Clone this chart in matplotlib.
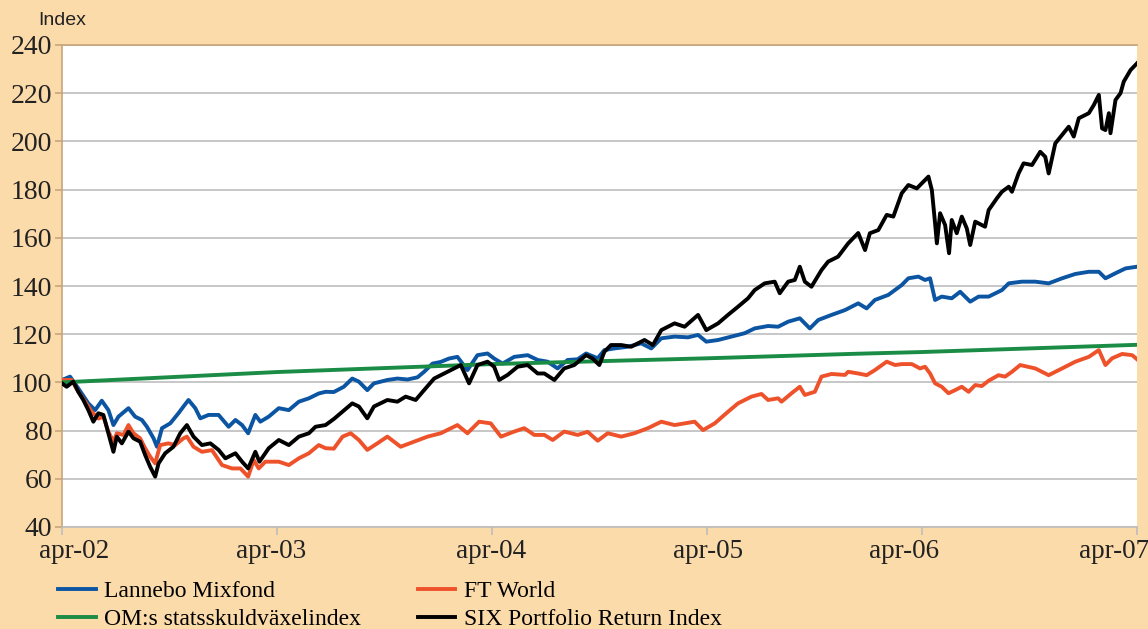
import matplotlib
matplotlib.use("Agg")
import matplotlib.pyplot as plt
from matplotlib.transforms import ScaledTranslation

BG = "#FCDBAA"
TAN = "#C8A47A"
GRID = "#BDBDBD"

# months since April 2002
lannebo_m = [0, 0.45, 0.91, 1.47, 1.85, 2.22, 2.59, 2.87, 3.15, 3.71, 4.08, 4.46, 4.74,
             5.11, 5.30, 5.58, 6.04, 6.50, 6.78, 7.06, 7.44, 7.72, 8.18, 8.74, 9.30,
             9.68, 10.05, 10.39, 10.79, 11.07, 11.54, 12.10, 12.66, 13.22, 13.78,
             14.33, 14.71, 15.17, 15.73, 16.20, 16.57, 17.04, 17.41, 18.16, 18.72,
             19.28, 19.84, 20.21, 20.68, 21.14, 21.60, 22.07, 22.63, 23.19, 23.75,
             24.12, 24.59, 25.24, 25.99, 26.55, 27.10, 27.66, 28.22, 28.78, 29.25,
             29.90, 30.27, 30.83, 31.58, 32.33, 32.89, 33.45, 34.19, 34.94, 35.50,
             35.96, 36.62, 37.36, 38.10, 38.66, 39.41, 39.97, 40.53, 41.18, 41.74,
             42.21, 42.95, 43.70, 44.44, 44.91, 45.37, 46.12, 46.87, 47.24, 47.80,
             48.17, 48.45, 48.73, 49.10, 49.66, 50.13, 50.69, 51.16, 51.72, 52.46,
             52.84, 53.58, 54.32, 55.07, 55.82, 56.56, 57.31, 57.87, 58.24, 58.80,
             59.36, 60]
lannebo = [101, 102.4, 97.5, 91.3, 88.5, 92.4, 88.5, 82.3, 85.8, 89.3, 85.8, 84.4, 81.6,
           76.8, 73.3, 81, 83, 87.2, 90, 92.7, 89.3, 85.1, 86.5, 86.5, 81.6,
           84.4, 82.3, 78.9, 86.5, 83.7, 85.8, 89.3, 88.5, 92, 93.4,
           95.4, 96.1, 96, 98.2, 101.6, 100.3, 96.8, 99.6, 101, 101.6,
           101.2, 102.1, 104.4, 107.8, 108.5, 109.9, 110.6, 105.1, 111.3, 112,
           109.9, 107.8, 110.6, 111.3, 109.3, 108.6, 105.8, 109.3, 109.6, 112,
           110, 113.4, 114.1, 114.8, 116.2, 114.1, 118.3, 119, 118.7, 119.7,
           116.9, 117.6, 119, 120.4, 122.4, 123.4, 123.1, 125.2, 126.6, 122.4,
           125.9, 128, 130, 132.8, 130.7, 134.2, 136.3, 140.4, 143.2, 143.9,
           142.5, 143.2, 134.2, 135.6, 134.9, 137.6, 133.5, 135.6, 135.6, 138.3,
           141.1, 141.8, 141.8, 141.1, 143.2, 145, 145.9, 145.9, 143.2, 145.3,
           147.3, 148]

ftworld_m = [0, 0.54, 0.91, 1.29, 1.66, 2.03, 2.31, 2.59, 2.87, 3.06, 3.43, 3.71, 3.99,
             4.36, 4.64, 4.92, 5.20, 5.48, 5.94, 6.32, 6.78, 6.97, 7.34, 7.81, 8.37,
             8.93, 9.49, 9.96, 10.39, 10.70, 10.98, 11.35, 12.10, 12.66, 13.22, 13.78,
             14.33, 14.71, 15.17, 15.66, 16.11, 16.57, 17.04, 17.60, 18.16, 18.90,
             19.65, 20.40, 21.14, 22.07, 22.63, 23.28, 23.93, 24.50, 25.24, 25.80,
             26.36, 26.92, 27.39, 28.03, 28.78, 29.34, 29.90, 30.46, 31.21, 31.95,
             32.70, 33.45, 34.19, 34.75, 35.31, 35.78, 36.43, 37.17, 37.73, 38.48,
             39.04, 39.41, 39.97, 40.16, 40.72, 41.18, 41.46, 42.02, 42.39, 42.95,
             43.70, 43.88, 44.44, 44.91, 45.37, 46.03, 46.50, 46.87, 47.43, 47.89,
             48.17, 48.45, 48.73, 49.10, 49.48, 49.85, 50.22, 50.60, 50.97, 51.34,
             51.72, 52.27, 52.64, 53.02, 53.48, 54.32, 55.07, 55.82, 56.56, 57.31,
             57.87, 58.24, 58.61, 59.17, 59.73, 60]
ftworld = [101, 101, 96.1, 92, 87.8, 85, 85.8, 79.6, 75.4, 78.9, 78.2, 82.3, 78.9,
           76.8, 72.7, 69.2, 66.4, 74, 74.7, 74, 76.8, 77.5, 73.3, 71.2, 71.9,
           65.7, 64.3, 64.3, 60.9, 67.8, 64.3, 67.1, 67.1, 65.7, 68.5, 70.6,
           74, 72.7, 72.5, 77.5, 78.9, 76.1, 72, 74.7, 77.5, 73.3,
           75.4, 77.5, 78.9, 82.3, 78.9, 83.7, 83, 77.5, 79.6, 81,
           78.2, 78.2, 76.1, 79.6, 78.2, 79.5, 75.8, 78.9, 77.5, 78.9,
           81, 83.7, 82.3, 83, 83.7, 80.2, 83, 87.8, 91.3, 94.1,
           95.2, 92.7, 93.4, 92, 95.5, 98.2, 94.8, 96.1, 102.4, 103.5,
           103.1, 104.4, 103.7, 103, 105.1, 108.6, 107.2, 107.6, 107.6, 105.8,
           106.5, 103.7, 99.6, 98.2, 95.5, 96.8, 98.2, 96.1, 98.9, 98.5,
           100.7, 103, 102.4, 104.4, 107.2, 105.8, 103, 105.8, 108.6, 110.6,
           113.4, 107.2, 110, 111.8, 111.3, 109.6]

om_m = [0, 12, 24, 36, 44.4, 48, 60]
om = [100, 104.3, 107.6, 110.0, 111.9, 112.6, 115.6]

six_m = [0, 0.26, 0.63, 0.91, 1.19, 1.47, 1.75, 2.03, 2.31, 2.59, 2.87, 3.06, 3.34,
         3.71, 3.99, 4.36, 4.64, 4.92, 5.20, 5.39, 5.76, 6.22, 6.60, 6.97, 7.34,
         7.81, 8.28, 8.74, 9.12, 9.68, 10.05, 10.39, 10.79, 11.02, 11.54, 12.10,
         12.66, 13.22, 13.78, 14.15, 14.71, 15.17, 15.55, 16.20, 16.57, 17.04,
         17.41, 18.16, 18.72, 19.18, 19.74, 20.21, 20.77, 21.33, 21.88, 22.26,
         22.72, 23.19, 23.75, 24.12, 24.40, 24.87, 25.43, 25.99, 26.55, 26.92,
         27.48, 28.03, 28.59, 29.25, 29.62, 29.99, 30.27, 30.64, 31.21, 31.77,
         32.51, 32.98, 33.45, 34.19, 34.75, 35.50, 35.96, 36.62, 37.17, 37.73,
         38.29, 38.66, 39.22, 39.78, 40.06, 40.53, 40.90, 41.18, 41.46, 41.83,
         42.39, 42.76, 43.32, 43.88, 44.44, 44.82, 45.09, 45.56, 46.03, 46.40,
         46.87, 47.24, 47.71, 48.08, 48.36, 48.55, 48.73, 48.83, 49.01, 49.29,
         49.51, 49.66, 49.94, 50.22, 50.50, 50.69, 50.97, 51.52, 51.72, 52.18,
         52.46, 52.84, 53.02, 53.39, 53.67, 54.14, 54.60, 54.88, 55.07, 55.44,
         55.82, 56.19, 56.47, 56.75, 57.31, 57.59, 57.87, 58.05, 58.24, 58.43,
         58.52, 58.80, 59.08, 59.26, 59.64, 60]
six = [99.6, 98.2, 100.3, 96.1, 92.7, 88.5, 83.7, 87.2, 86.5, 78.9, 71.2, 77.5, 74.7,
       79.6, 76.8, 75.4, 69.9, 65, 60.9, 66.4, 70.6, 73.3, 78.9, 82.3, 77.5,
       74, 74.7, 72, 68.5, 70.6, 67.1, 64.3, 71.2, 67.1, 72.7, 76.1,
       74, 77.5, 78.9, 81.6, 82.3, 84.8, 87.2, 91.3, 90, 85.1,
       90, 92.7, 92, 94.1, 92.7, 96.8, 101.6, 103.7, 105.8, 107.2,
       99.6, 107.2, 108.6, 106.5, 101, 103.1, 106.5, 107.2, 103.7, 103.7,
       101, 105.8, 107.2, 111.3, 109.9, 107.2, 112.7, 115.5, 115.5, 114.8,
       117.6, 115.5, 121.7, 124.5, 123.1, 128, 121.7, 124.5, 128, 131.4,
       134.9, 138.3, 141.1, 141.8, 137, 141.8, 142.5, 148, 141.8, 139.7,
       146.6, 150.1, 152.2, 157.7, 162, 154.9, 161.9, 163.2, 169.5, 168.8,
       178.5, 181.9, 180.5, 183.3, 185.4, 179.8, 166, 157.7, 170.2, 165.3,
       153.6, 167.4, 161.9, 168.8, 163.9, 157, 166.7, 164.6, 171.5, 176.4,
       179.1, 181.2, 179.1, 186.7, 190.9, 190.2, 195.7, 193.6, 186.7, 199.2,
       202.7, 206.1, 202, 209.6, 211.7, 215.1, 219.3, 205.4, 204.7, 211.7,
       203.4, 217.2, 220, 224.8, 229.6, 232.4]

tick_months = [0, 12, 24, 36, 48, 60]
tick_labels = ["apr-02", "apr-03", "apr-04", "apr-05", "apr-06", "apr-07"]
y_ticks = list(range(40, 241, 20))

fig = plt.figure(figsize=(11.48, 6.29), dpi=100, facecolor=BG)
ax = fig.add_axes([62 / 1148, 1 - 527 / 629, (1137 - 62) / 1148, (527 - 45) / 629])
ax.set_facecolor("white")

lw = 2.8
ax.plot(lannebo_m, lannebo, color="#0B55A3", lw=lw, label="Lannebo Mixfond", zorder=3)
ax.plot(ftworld_m, ftworld, color="#EE522B", lw=lw, label="FT World", zorder=3)
ax.plot(om_m, om, color="#1A8C45", lw=lw, label="OM:s statsskuldväxelindex", zorder=4)
ax.plot(six_m, six, color="#000000", lw=lw, label="SIX Portfolio Return Index", zorder=5)

ax.set_xlim(0, 60)
ax.set_ylim(40, 240)
ax.set_yticks(y_ticks)
ax.set_xticks(tick_months)
ax.set_xticklabels(tick_labels)
ax.yaxis.grid(True, color=GRID, lw=1.2)
ax.set_axisbelow(True)

ax.spines["right"].set_visible(False)
ax.spines["left"].set_color(TAN)
ax.spines["top"].set_color(TAN)
ax.spines["bottom"].set_color(GRID)
for s in ["left", "top", "bottom"]:
    ax.spines[s].set_linewidth(1.2)

ax.tick_params(axis="y", colors=TAN, length=5, width=1.2, pad=2,
               labelcolor="#222222", labelsize=20)
ax.tick_params(axis="x", colors=GRID, length=6, width=1.2, pad=3,
               labelcolor="#222222", labelsize=19.5)
for lab in ax.get_xticklabels() + ax.get_yticklabels():
    lab.set_fontfamily("Liberation Serif")

# Excel nudges some date labels sideways; shift in pixels
label_shift = [12, -6, -1, 1, -18, -23]
for lab, dx in zip(ax.get_xticklabels(), label_shift):
    lab.set_transform(lab.get_transform() + ScaledTranslation(dx / 100, 0, fig.dpi_scale_trans))

fig.text(38 / 1148, 1 - 29 / 629, "Index", fontsize=14, family="Liberation Sans",
         color="#222222", va="bottom", ha="left")

handles, labels = ax.get_legend_handles_labels()
order = [0, 2, 1, 3]
fig.legend([handles[i] for i in order], [labels[i] for i in order],
           loc="lower left", bbox_to_anchor=(0.032, -0.036), ncol=2,
           frameon=False, prop={"family": "Liberation Serif", "size": 17},
           handlelength=1.6, handletextpad=0.35, columnspacing=2.4,
           labelspacing=0.3)

fig.savefig("out.png", dpi=100, facecolor=BG)
